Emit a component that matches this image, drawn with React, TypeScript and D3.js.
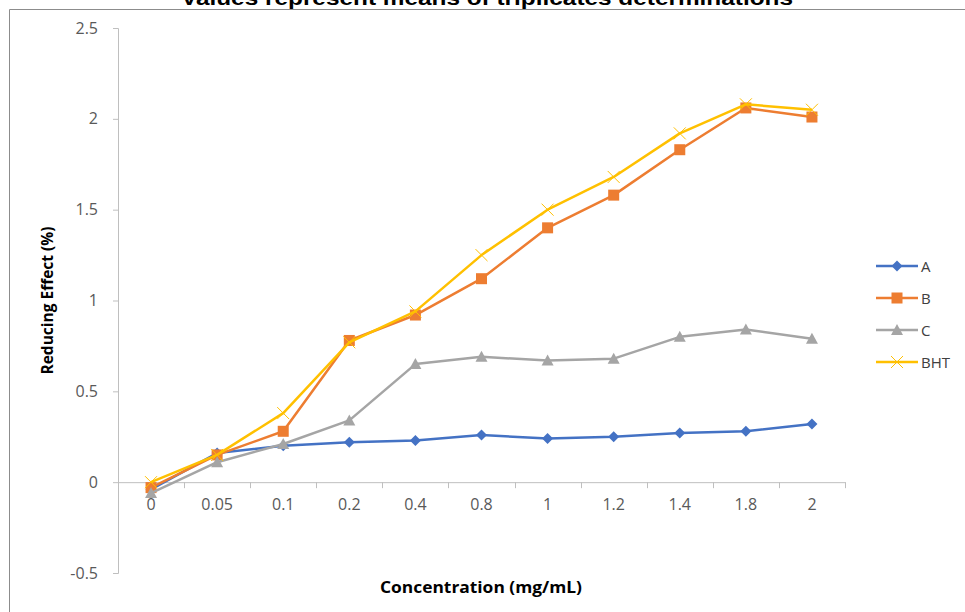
import React, { useEffect, useRef } from 'react';
import * as d3 from 'd3';

const categories = ['0', '0.05', '0.1', '0.2', '0.4', '0.8', '1', '1.2', '1.4', '1.8', '2'];
const seriesA = [-0.04, 0.16, 0.2, 0.22, 0.23, 0.26, 0.24, 0.25, 0.27, 0.28, 0.32];
const seriesB = [-0.03, 0.15, 0.28, 0.78, 0.92, 1.12, 1.4, 1.58, 1.83, 2.06, 2.01];
const seriesC = [-0.06, 0.11, 0.21, 0.34, 0.65, 0.69, 0.67, 0.68, 0.8, 0.84, 0.79];
const seriesBHT = [0.0, 0.15, 0.38, 0.77, 0.94, 1.25, 1.5, 1.68, 1.92, 2.08, 2.05];
const yTicks = [-0.5, 0, 0.5, 1, 1.5, 2, 2.5];

const series = [
  { name: 'A', values: seriesA, color: '#4472C4', marker: 'diamond' },
  { name: 'B', values: seriesB, color: '#ED7D31', marker: 'square' },
  { name: 'C', values: seriesC, color: '#A5A5A5', marker: 'triangle' },
  { name: 'BHT', values: seriesBHT, color: '#FFC000', marker: 'x' },
];

const W = 965, H = 612;
const font = '"Open Sans", "Liberation Sans", sans-serif';

function drawMarker(g: any, type: string, cx: number, cy: number, color: string) {
  if (type === 'diamond') {
    g.append('path').attr('d', `M${cx},${cy - 5.5}L${cx + 5.5},${cy}L${cx},${cy + 5.5}L${cx - 5.5},${cy}Z`).attr('fill', color);
  } else if (type === 'square') {
    g.append('rect').attr('x', cx - 5.5).attr('y', cy - 5.5).attr('width', 11).attr('height', 11).attr('fill', color);
  } else if (type === 'triangle') {
    g.append('path').attr('d', `M${cx},${cy - 6}L${cx + 6},${cy + 5}L${cx - 6},${cy + 5}Z`).attr('fill', color);
  } else {
    g.append('path').attr('d', `M${cx - 6},${cy - 6}L${cx + 6},${cy + 6}M${cx + 6},${cy - 6}L${cx - 6},${cy + 6}`)
      .attr('stroke', color).attr('stroke-width', 1).attr('fill', 'none');
  }
}

export default function App() {
  const ref = useRef<SVGSVGElement>(null);

  useEffect(() => {
    const svg = d3.select(ref.current);
    svg.selectAll('*').remove();

    const left = 118, right = 845, top = 28, bottom = 573;
    const x = d3.scaleBand().domain(categories).range([left, right]);
    const y = d3.scaleLinear().domain([-0.5, 2.5]).range([bottom, top]);

    svg.append('rect').attr('width', W).attr('height', H).attr('fill', '#fff');
    // chart border
    svg.append('path').attr('d', `M9.5,${H}V9.5H${W}`).attr('fill', 'none').attr('stroke', '#8c8c8c').attr('stroke-width', 1);

    // title (clipped at top, as in the source)
    svg.append('text').attr('x', 487).attr('y', 5).attr('text-anchor', 'middle')
      .attr('font-family', '"Liberation Sans", Arial, sans-serif').attr('font-weight', 'bold').attr('font-size', 21)
      .attr('textLength', 612).attr('lengthAdjust', 'spacingAndGlyphs')
      .text('Values represent means of triplicates determinations');

    // y axis
    const yAxis = svg.append('g').attr('transform', `translate(${left},0)`)
      .call(d3.axisLeft(y).tickValues(yTicks).tickSize(5).tickPadding(15).tickFormat(d => String(d)));
    yAxis.select('.domain').attr('stroke', '#bfbfbf').attr('d', `M-5,${bottom + 0.5}H0.5V${top + 0.5}H-5`);
    yAxis.selectAll('.tick line').attr('stroke', '#bfbfbf');
    yAxis.selectAll('.tick text').attr('font-family', font).attr('font-size', 16).attr('fill', '#595959');

    // x axis at zero
    const xAxis = svg.append('g').attr('transform', `translate(0,${y(0)})`)
      .call(d3.axisBottom(x).tickSize(0).tickPadding(16));
    xAxis.select('.domain').attr('stroke', '#bfbfbf');
    xAxis.selectAll('.tick text').attr('font-family', font).attr('font-size', 16).attr('fill', '#595959');
    const bounds = [...categories.map(c => x(c)!), right];
    xAxis.selectAll('.bound').data(bounds).enter().append('line')
      .attr('x1', d => Math.round(d) + 0.5).attr('x2', d => Math.round(d) + 0.5)
      .attr('y1', 0).attr('y2', 6).attr('stroke', '#bfbfbf');

    // axis titles
    svg.append('text').attr('transform', `translate(53,${(top + bottom) / 2}) rotate(-90)`)
      .attr('text-anchor', 'middle').attr('font-family', font).attr('font-weight', 'bold').attr('font-size', 15.5)
      .attr('fill', '#000').text('Reducing Effect (%)');
    svg.append('text').attr('x', 481).attr('y', 593).attr('text-anchor', 'middle')
      .attr('font-family', font).attr('font-weight', 'bold').attr('font-size', 16)
      .attr('textLength', 202).attr('lengthAdjust', 'spacingAndGlyphs')
      .attr('fill', '#000').text('Concentration (mg/mL)');

    const cx = (c: string) => x(c)! + x.bandwidth() / 2;
    const line = d3.line<number>().x((_, i) => cx(categories[i])).y(d => y(d));

    series.forEach(s => {
      svg.append('path').datum(s.values).attr('d', line).attr('fill', 'none')
        .attr('stroke', s.color).attr('stroke-width', 2.5).attr('stroke-linejoin', 'round');
      const mg = svg.append('g');
      s.values.forEach((v, i) => drawMarker(mg, s.marker, cx(categories[i]), y(v), s.color));
    });

    // legend
    const lg = svg.append('g').attr('transform', 'translate(876,266)');
    series.forEach((s, i) => {
      const yy = i * 32;
      lg.append('line').attr('x1', 0).attr('x2', 42).attr('y1', yy).attr('y2', yy)
        .attr('stroke', s.color).attr('stroke-width', 2.5);
      drawMarker(lg, s.marker, 21, yy, s.color);
      lg.append('text').attr('x', 45).attr('y', yy + 5.5).attr('font-family', font).attr('font-size', 15)
        .attr('fill', '#404040').text(s.name);
    });
  }, []);

  return (
    <svg ref={ref} width={W} height={H} style={{ position: 'absolute', left: 0, top: 0 }} />
  );
}
